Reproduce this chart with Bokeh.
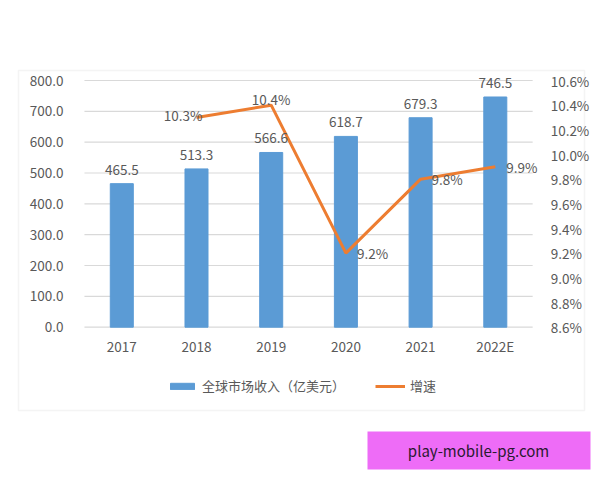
from bokeh.plotting import figure
from bokeh.models import (Range1d, LinearAxis, FixedTicker, PrintfTickFormatter,
                          Legend, LegendItem, BoxAnnotation, Label)
from bokeh.core.properties import value
from bokeh.embed import file_html
from bokeh.resources import INLINE

years = ["2017", "2018", "2019", "2020", "2021", "2022E"]
revenue = [465.5, 513.3, 566.6, 618.7, 679.3, 746.5]
growth_years = ["2018", "2019", "2020", "2021", "2022E"]
growth = [10.3, 10.4, 9.2, 9.8, 9.9]
left_ticks = [0, 100, 200, 300, 400, 500, 600, 700, 800]
right_ticks = [8.6, 8.8, 9.0, 9.2, 9.4, 9.6, 9.8, 10.0, 10.2, 10.4, 10.6]
bar_name = "全球市场收入（亿美元）"
line_name = "增速"
watermark_site = "play-mobile-pg.com"

FONT = "Noto Sans CJK SC"
GRAY = "#595959"
BLUE = "#5B9BD5"
ORANGE = "#ED7D31"
FS = "13.5px"

xi = list(range(len(years)))
gx = [years.index(y) for y in growth_years]

W, H = 592, 472
p = figure(width=W, height=H, output_backend="svg", toolbar_location=None,
           x_range=Range1d(-1.4364, 6.3012),
           y_range=Range1d(-471.2, 845.4),
           min_border_left=14, min_border_right=0, min_border_top=66, min_border_bottom=0)
p.extra_y_ranges = {"pct": Range1d(8.6 - 471.2 / 400, 8.6 + 845.4 / 400)}
p.outline_line_color = None
p.background_fill_color = "white"
p.border_fill_color = "white"
p.grid.visible = False

# outer box (frame-relative screen units)
p.add_layout(BoxAnnotation(left=4, right=570, top=402, bottom=62,
                           left_units="screen", right_units="screen",
                           top_units="screen", bottom_units="screen",
                           fill_color=None, line_color="#D9D9D9", line_width=1.5,
                           level="underlay"))

# horizontal grid lines over the category span
p.segment(x0=[-0.5] * len(left_ticks), x1=[len(years) - 0.5] * len(left_ticks),
          y0=left_ticks, y1=left_ticks, line_color="#D9D9D9", line_width=1.2)

bars = p.vbar(x=xi, top=revenue, width=0.308, color=BLUE)
line = p.line(x=gx, y=growth, y_range_name="pct", color=ORANGE, line_width=3)

# axes
p.xaxis.ticker = FixedTicker(ticks=xi)
p.xaxis.major_label_overrides = {i: y for i, y in zip(xi, years)}
p.xaxis.fixed_location = 0
p.yaxis.ticker = FixedTicker(ticks=left_ticks)
p.yaxis.formatter = PrintfTickFormatter(format="%.1f")
p.yaxis.fixed_location = -0.5
for ax in [p.yaxis[0], p.xaxis[0]]:
    ax.axis_line_color = None
    ax.major_tick_line_color = None
    ax.minor_tick_line_color = None
    ax.major_label_text_color = GRAY
    ax.major_label_text_font = FONT
    ax.major_label_text_font_size = FS
p.yaxis.major_label_standoff = 15
p.xaxis.major_label_standoff = 3

ry = LinearAxis(y_range_name="pct", ticker=FixedTicker(ticks=right_ticks),
                formatter=PrintfTickFormatter(format="%.1f%%"),
                fixed_location=len(years) - 0.5)
ry.axis_line_color = None
ry.major_tick_line_color = None
ry.minor_tick_line_color = None
ry.major_label_text_color = GRAY
ry.major_label_text_font = FONT
ry.major_label_text_font_size = FS
ry.major_label_standoff = 12
p.add_layout(ry, "right")

# bar data labels
p.text(x=xi, y=revenue, text=[f"{v:.1f}" for v in revenue],
       text_align="center", text_baseline="middle", y_offset=-14,
       text_color=GRAY, text_font=value(FONT), text_font_size=FS)

# line data labels
glabels = [f"{v:.1f}%" for v in growth]
p.text(x=gx[:1], y=growth[:1], text=glabels[:1], y_range_name="pct",
       text_align="right", text_baseline="middle", x_offset=6, y_offset=-3,
       text_color=GRAY, text_font=value(FONT), text_font_size=FS)
p.text(x=gx[1:2], y=growth[1:2], text=glabels[1:2], y_range_name="pct",
       text_align="center", text_baseline="middle", x_offset=0, y_offset=-6,
       text_color=GRAY, text_font=value(FONT), text_font_size=FS)
p.text(x=gx[2:], y=growth[2:], text=glabels[2:], y_range_name="pct",
       text_align="left", text_baseline="middle", x_offset=11, y_offset=0,
       text_color=GRAY, text_font=value(FONT), text_font_size=FS)

legend = Legend(items=[LegendItem(label=bar_name, renderers=[bars]),
                       LegendItem(label=line_name, renderers=[line])],
                orientation="horizontal", location=(153, 77),
                glyph_width=30, glyph_height=8, label_height=14,
                label_text_font=FONT, label_text_font_size="13px",
                label_text_color=GRAY, background_fill_alpha=0,
                border_line_color=None, padding=0, margin=0,
                spacing=30, label_standoff=5)
p.add_layout(legend, "center")

# pink site box
p.add_layout(BoxAnnotation(left=353, right=576, top=41, bottom=3,
                           left_units="screen", right_units="screen",
                           top_units="screen", bottom_units="screen",
                           fill_color="#EE6CF7", fill_alpha=1, line_color=None,
                           level="overlay"))
p.add_layout(Label(x=464, y=22, x_units="screen", y_units="screen",
                   text=watermark_site, text_align="center", text_baseline="middle",
                   text_color="#2A1A30", text_font=FONT, text_font_size="15px",
                   level="overlay"))

open("out.html", "w").write(file_html(p, INLINE))
